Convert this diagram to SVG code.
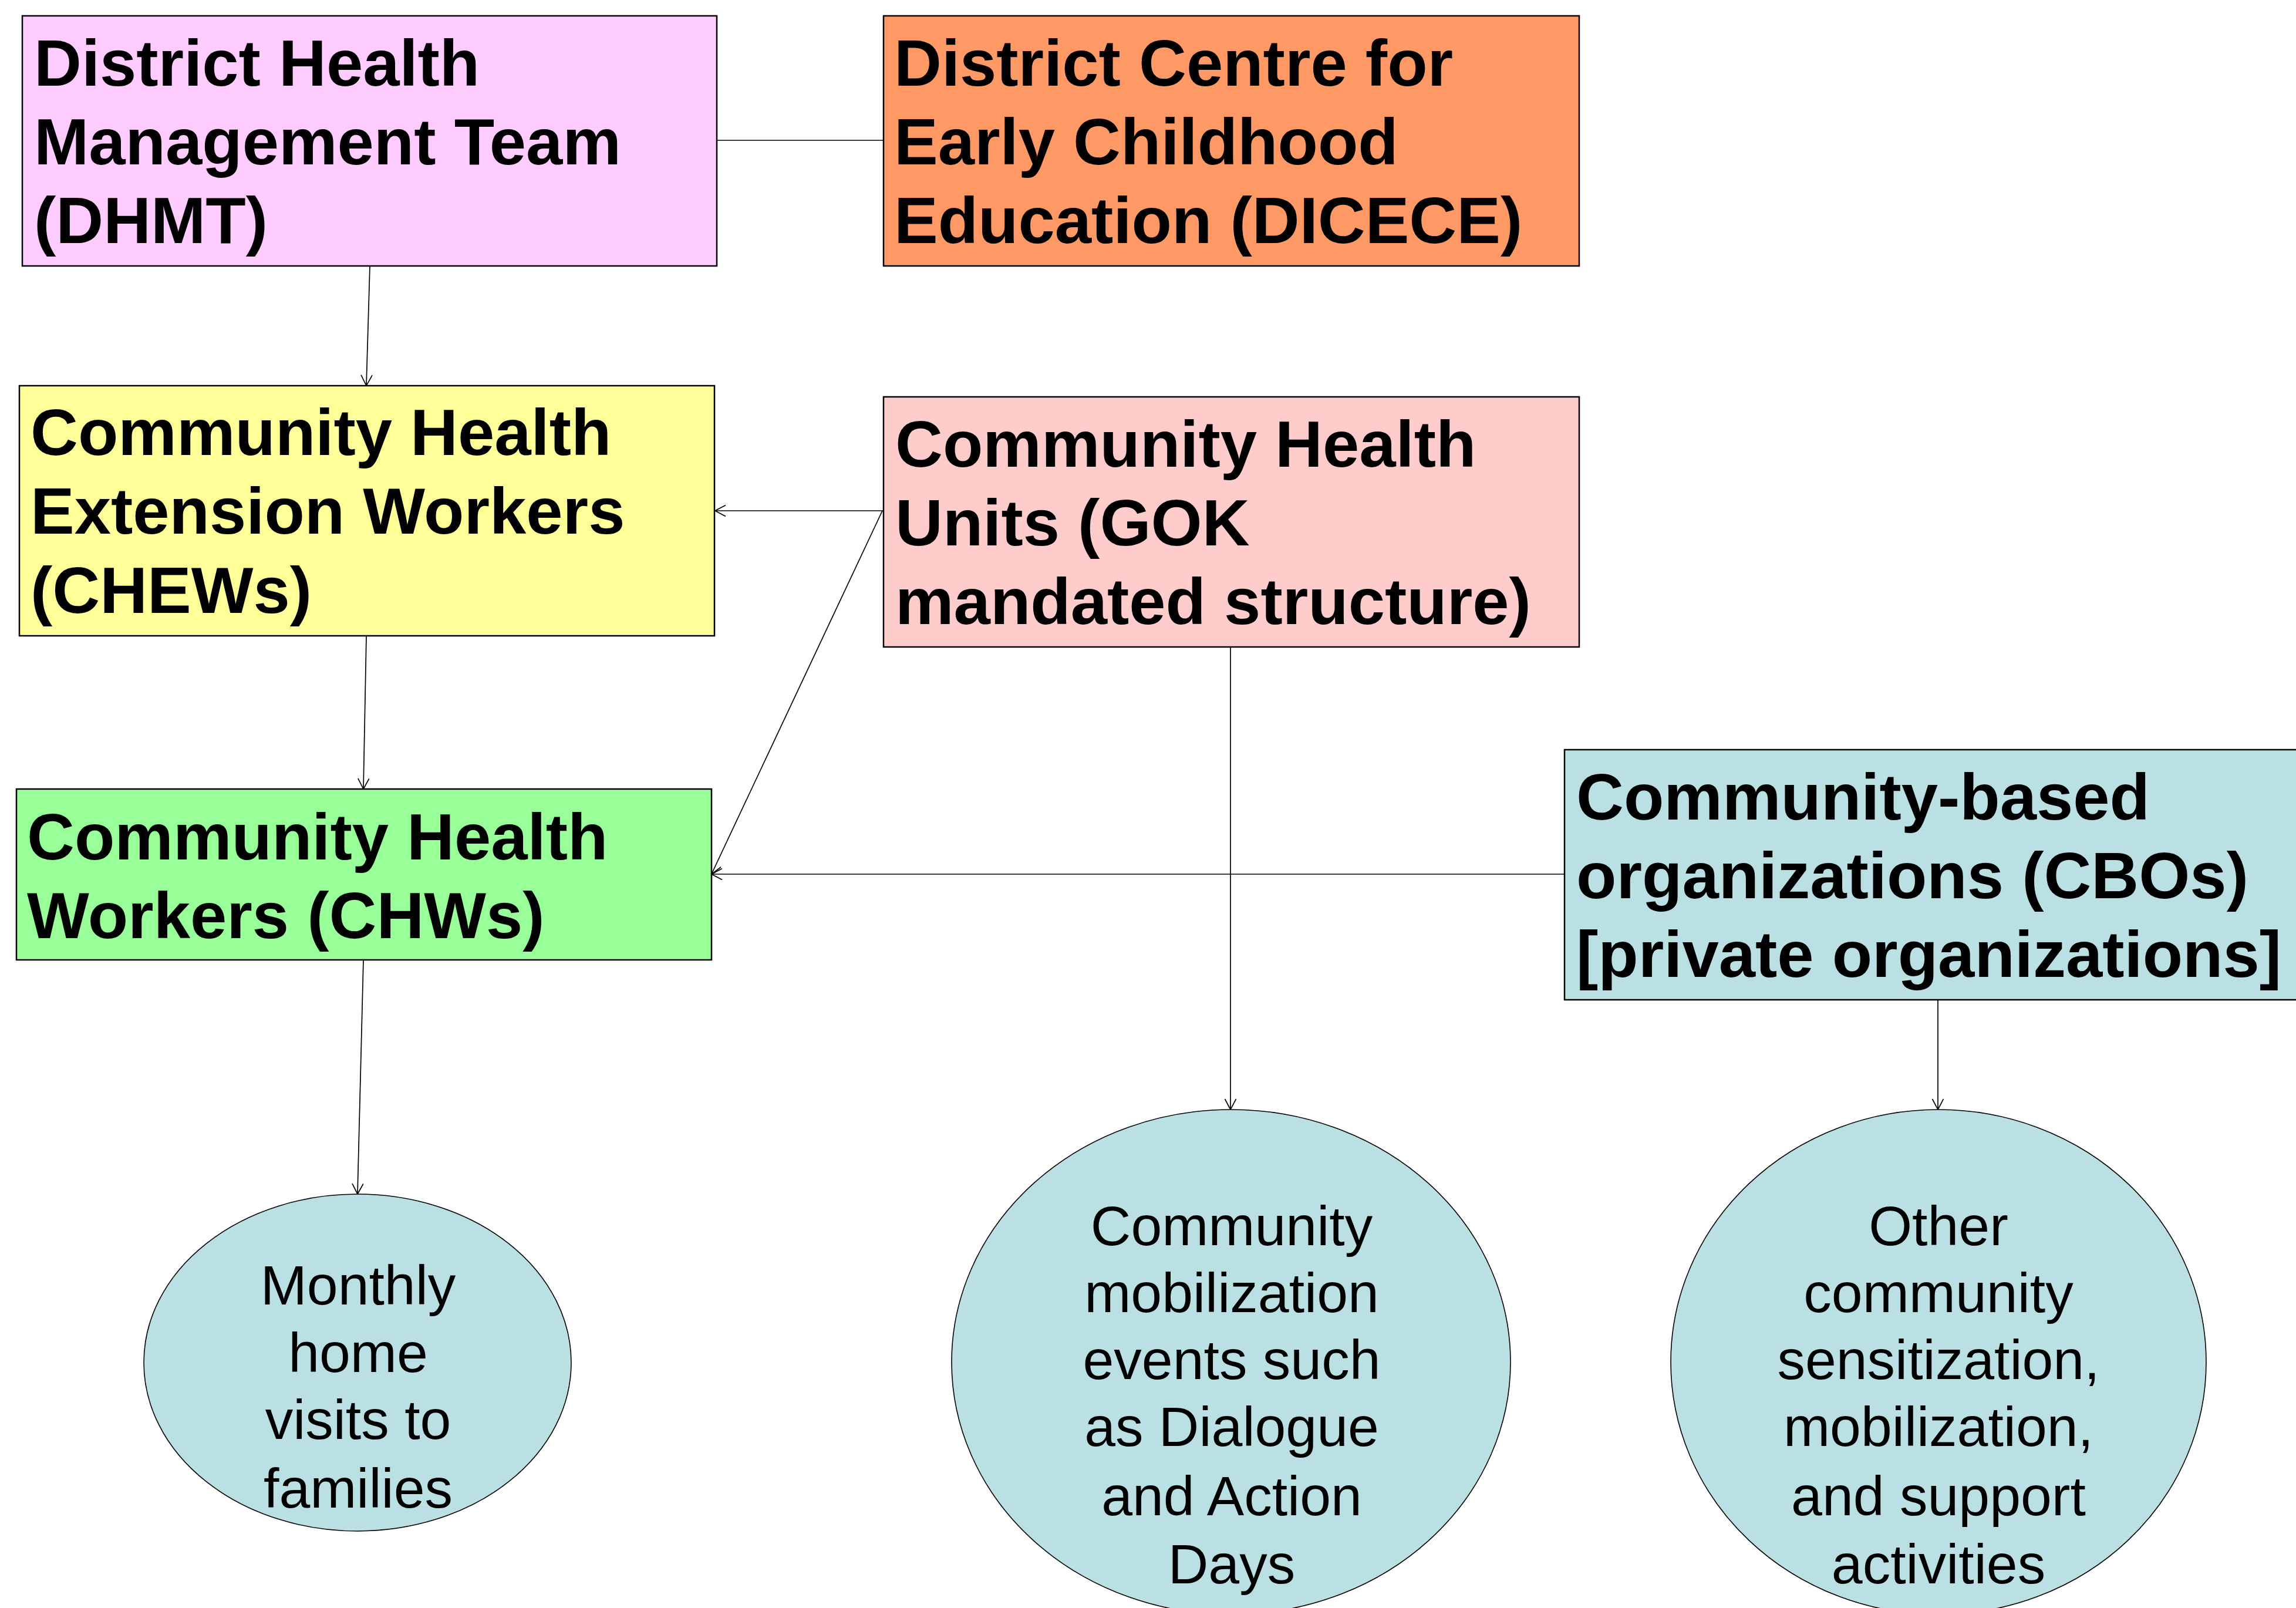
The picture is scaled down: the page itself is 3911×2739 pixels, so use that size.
<svg xmlns="http://www.w3.org/2000/svg" width="3911" height="2739" viewBox="0 0 3911 2739">
<style>
.box{stroke:#000;stroke-width:2.5}
.oval{stroke:#000;stroke-width:1.6;fill:#BBE0E3}
.bt{font-family:"Liberation Sans",Arial,sans-serif;font-weight:bold;font-size:112px;fill:#000}
.ot{font-family:"Liberation Sans",Arial,sans-serif;font-size:95px;fill:#000;text-anchor:middle}
.con{stroke:#000;stroke-width:1.7;fill:none}
.arr{marker-end:url(#arr)}
</style>
<defs>
<marker id="arr" markerWidth="22" markerHeight="22" refX="19" refY="10" orient="auto" markerUnits="userSpaceOnUse">
<path d="M1,0.5 L19,10 L1,19.5" fill="none" stroke="#000" stroke-width="1.7"/>
</marker>
</defs>
<rect width="3911" height="2739" fill="#fff"/>
<g id="connectors">
<line class="con" x1="1221" y1="239" x2="1505" y2="239"/>
<line class="con arr" x1="630" y1="453" x2="624" y2="657"/>
<line class="con arr" x1="1505" y1="870" x2="1218" y2="870"/>
<line class="con arr" x1="1503" y1="870" x2="1212" y2="1489"/>
<line class="con arr" x1="2665" y1="1489" x2="1212" y2="1489"/>
<line class="con arr" x1="624" y1="1083" x2="619" y2="1344"/>
<line class="con arr" x1="619" y1="1635" x2="609" y2="2034"/>
<line class="con arr" x1="2096" y1="1102" x2="2096" y2="1890"/>
<line class="con arr" x1="3301" y1="1704" x2="3301" y2="1890"/>
</g>
<g id="dhmt">
<rect class="box" x="38" y="27" width="1183" height="426" fill="#FFCCFF"/>
<text class="bt" x="58" y="146">District Health</text>
<text class="bt" x="58" y="280">Management Team</text>
<text class="bt" x="58" y="414">(DHMT)</text>
</g>
<g id="dicece">
<rect class="box" x="1505" y="27" width="1185" height="426" fill="#FF9966"/>
<text class="bt" x="1523" y="146">District Centre for</text>
<text class="bt" x="1523" y="280">Early Childhood</text>
<text class="bt" x="1523" y="414">Education (DICECE)</text>
</g>
<g id="chews">
<rect class="box" x="33" y="657" width="1184" height="426" fill="#FFFF99"/>
<text class="bt" x="52" y="775">Community Health</text>
<text class="bt" x="52" y="909">Extension Workers</text>
<text class="bt" x="52" y="1044">(CHEWs)</text>
</g>
<g id="chu">
<rect class="box" x="1505" y="676" width="1185" height="426" fill="#FFCCCC"/>
<text class="bt" x="1525" y="795">Community Health</text>
<text class="bt" x="1525" y="929">Units (GOK</text>
<text class="bt" x="1525" y="1063">mandated structure)</text>
</g>
<g id="chws">
<rect class="box" x="28" y="1344" width="1184" height="291" fill="#99FF99"/>
<text class="bt" x="46" y="1464">Community Health</text>
<text class="bt" x="46" y="1598">Workers (CHWs)</text>
</g>
<g id="cbo">
<rect class="box" x="2665" y="1277" width="1300" height="426" fill="#BBE0E3"/>
<text class="bt" x="2685" y="1396">Community-based</text>
<text class="bt" x="2685" y="1530">organizations (CBOs)</text>
<text class="bt" x="2685" y="1664">[private organizations]</text>
</g>
<g id="monthly">
<ellipse class="oval" cx="609" cy="2321" rx="364" ry="287"/>
<text class="ot" x="610" y="2222">Monthly</text>
<text class="ot" x="610" y="2337">home</text>
<text class="ot" x="610" y="2451">visits to</text>
<text class="ot" x="610" y="2568">families</text>
</g>
<g id="mobilization">
<ellipse class="oval" cx="2097" cy="2320" rx="476" ry="430"/>
<text class="ot" x="2098" y="2121">Community</text>
<text class="ot" x="2098" y="2235">mobilization</text>
<text class="ot" x="2098" y="2349">events such</text>
<text class="ot" x="2098" y="2463">as Dialogue</text>
<text class="ot" x="2098" y="2581">and Action</text>
<text class="ot" x="2098" y="2697">Days</text>
</g>
<g id="other">
<ellipse class="oval" cx="3302" cy="2320" rx="456" ry="430"/>
<text class="ot" x="3302" y="2121">Other</text>
<text class="ot" x="3302" y="2235">community</text>
<text class="ot" x="3302" y="2349">sensitization,</text>
<text class="ot" x="3302" y="2463">mobilization,</text>
<text class="ot" x="3302" y="2581">and support</text>
<text class="ot" x="3302" y="2697">activities</text>
</g>
</svg>
